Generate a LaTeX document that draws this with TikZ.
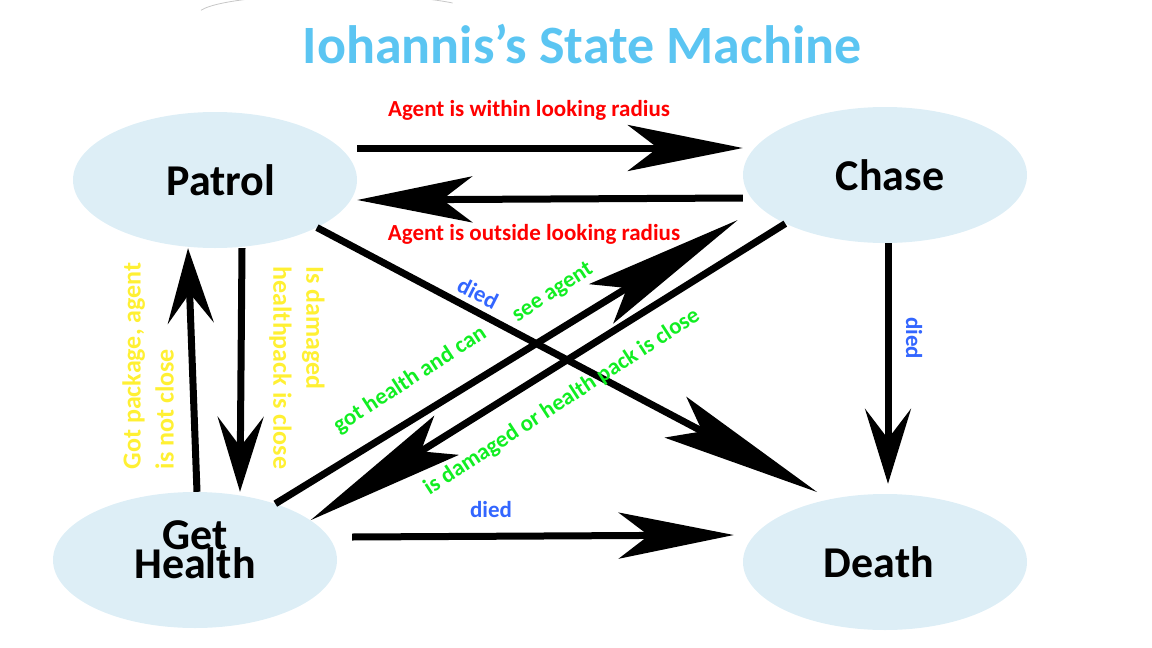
\documentclass[tikz,border=0pt]{standalone}
\usepackage{fontspec}
\setmainfont{Carlito}
\usetikzlibrary{arrows.meta,shapes.geometric}
\definecolor{statefill}{HTML}{DDEEF6}
\definecolor{titleblue}{HTML}{5BC5F2}
\definecolor{condred}{HTML}{FF0000}
\definecolor{diedblue}{HTML}{3366FF}
\definecolor{condgreen}{HTML}{11EE22}
\definecolor{condyellow}{HTML}{FFF033}
\tikzset{
	state/.style={ellipse, fill=statefill, minimum width=284pt, minimum height=136pt, inner sep=0pt, font=\bfseries\fontsize{44}{28}\selectfont, align=center},
	trans/.style={line width=7pt, -{Stealth[length=#1, width=46pt, inset=30pt]}},
	trans/.default=115pt,
	lbl/.style={font=\bfseries\fontsize{23}{28}\selectfont, inner sep=0pt},
	ylbl/.style={font=\bfseries\fontsize{26}{33}\selectfont, text=condyellow, inner sep=0pt}
}
\begin{document}
\begin{tikzpicture}[x=1pt,y=-1pt]
	\useasboundingbox (0,0) rectangle (1152,648);
	% faint outline left at the top
	\begin{scope}
		\clip (0,0) rectangle (1152,648);
		\draw [black!22, line width=0.8pt] (201,10.3) arc [start angle=168, end angle=35, x radius=140pt, y radius=20pt];
	\end{scope}
	\node [font=\bfseries\fontsize{54}{54}\selectfont, text=titleblue, anchor=base] (title) at (582,63) {Iohannis’s State Machine};
	% states
	\node [state] (patrol) at (215,180) {\hspace*{12pt}Patrol};
	\node [state] (chase) at (885,175) {\hspace*{10pt}Chase};
	\node [state, text depth=21pt] (gethealth) at (195,560) {Get\\[-4pt]Health};
	\node [state] (death) at (885,562) {Death\hspace*{12pt}};
	% transitions
	\draw [trans] ([yshift=32pt]patrol.east) -- ([yshift=27pt]chase.west);
	\draw [trans] ([yshift=-23pt]chase.west) -- ([yshift=-20pt]patrol.east);
	\draw [trans=75pt] ([xshift=2pt]gethealth.north) -- ([xshift=-27pt]patrol.south);
	\draw [trans=75pt] ([xshift=27pt]patrol.south) -- ([xshift=45pt]gethealth.north);
	\draw [trans=75pt] ([xshift=3pt]chase.south) -- ([xshift=3pt,yshift=10pt]death.north);
	\draw [trans] ([xshift=15pt,yshift=23pt]gethealth.east) -- ([xshift=-9pt,yshift=27pt]death.west);
	\draw [trans=160pt] (patrol.-25) -- ([shift={(-8pt,8pt)}]death.134);
	\draw [trans=160pt] (gethealth.35) -- ([xshift=-5pt,yshift=-45pt]chase.west);
	\draw [trans=160pt] (chase.206) -- (gethealth.19);
	% conditions
	\node [lbl, text=condred] (within) at (529,110) {Agent is within looking radius};
	\node [lbl, text=condred] (outside) at (534,234) {Agent is outside looking radius};
	\node [lbl, text=diedblue, rotate=-27] (diedpd) at (478,293) {died};
	\node [lbl, text=diedblue, rotate=-90] (diedcd) at (914,338) {died};
	\node [lbl, text=diedblue] (diedgd) at (491,510) {died};
	\node [lbl, text=condgreen, rotate=33] (gothealth) at (410,380) {got health and can};
	\node [lbl, text=condgreen, rotate=33] (seeagent) at (553,293) {see agent};
	\node [lbl, text=condgreen, rotate=33] (damaged) at (562,402) {is damaged or health pack is close};
	\node [ylbl, rotate=90, align=left] (gotpackage) at (148,366) {Got package, agent\\is not close};
	\node [ylbl, rotate=-90, align=left] (isdamaged) at (297,368) {Is damaged\\healthpack is close};
\end{tikzpicture}
\end{document}
